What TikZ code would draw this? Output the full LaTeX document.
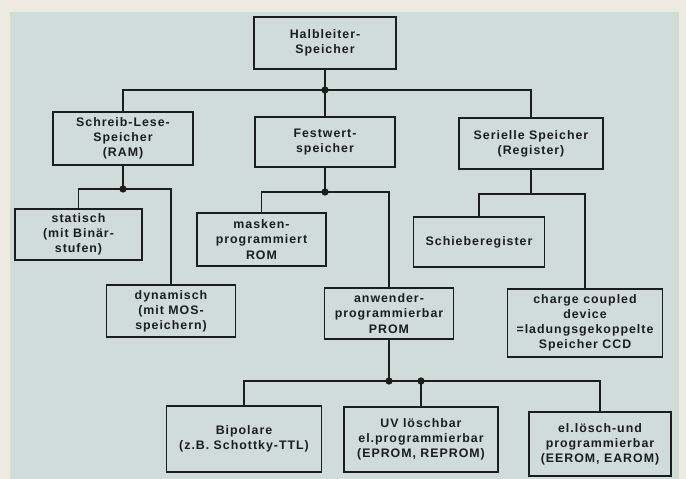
\documentclass[tikz,border=0pt]{standalone}
\usepackage{fontspec}
\setmainfont{Liberation Sans}[LetterSpace=8]
\definecolor{cpanel}{HTML}{D0DCDA}
\definecolor{cpaper}{HTML}{EEE9E1}
\definecolor{cink}{HTML}{1C1C1C}

\begin{document}
\begin{tikzpicture}[x=0.025cm, y=-0.025cm,
      box/.style={draw=cink, line width=1.2pt, align=center, inner sep=2pt, text=cink, font=\fontsize{8.8}{10.8}\selectfont\bfseries},
      wire/.style={draw=cink, line width=1.2pt}
    ]
    \fill[cpaper] (0,0) rectangle (686,479);
    \fill[cpanel] (10,12) rectangle (679,479);
    \useasboundingbox (0,0) rectangle (686,479);

    \node[box, minimum width=3.55cm, minimum height=1.3cm] (hl) at (325,43) {Halbleiter-\\Speicher};
    \node[box, minimum width=3.5cm, minimum height=1.325cm] (ram) at (123,138.5) {Schreib-Lese-\\Speicher\\(RAM)};
    \node[box, minimum width=3.5cm, minimum height=1.25cm] (fest) at (325,142) {Festwert-\\speicher};
    \node[box, minimum width=3.6cm, minimum height=1.275cm] (ser) at (531,143.5) {Serielle Speicher\\(Register)};

    \node[box, minimum width=3.175cm, minimum height=1.275cm] (stat) at (78.5,234.5) {statisch\\(mit Binär-\\stufen)};
    \node[box, minimum width=3.225cm, minimum height=1.3cm] (dyn) at (171,311) {dynamisch\\(mit MOS-\\speichern)};
    \node[box, minimum width=3.225cm, minimum height=1.325cm] (mask) at (261.5,239.5) {masken-\\programmiert\\ROM};
    \node[box, minimum width=3.225cm, minimum height=1.275cm] (anw) at (389,313.5) {anwender-\\programmierbar\\PROM};
    \node[box, minimum width=3.275cm, minimum height=1.25cm] (schieb) at (479,242) {Schieberegister};
    \node[box, minimum width=3.875cm, minimum height=1.7cm] (ccd) at (585,323) {charge coupled\\device\\=ladungsgekoppelte\\Speicher CCD};

    \node[box, minimum width=3.875cm, minimum height=1.65cm] (bip) at (244,439) {Bipolare\\(z.B. Schottky-TTL)};
    \node[box, minimum width=3.85cm, minimum height=1.625cm] (uv) at (421,439.5) {UV löschbar\\el.programmierbar\\(EPROM, REPROM)};
    \node[box, minimum width=3.55cm, minimum height=1.6cm] (el) at (600,444) {el.lösch-und\\programmierbar\\(EEROM, EAROM)};

    \coordinate (j1) at (325,90);
    \coordinate (j2) at (123,189);
    \coordinate (j3) at (325,192);
    \coordinate (j4) at (531,194);
    \coordinate (j5) at (389,381);
    \coordinate (j6) at (421,381);

    \draw[wire] (hl) -- (fest);
    \draw[wire] (ram.north) |- (j1) -| (ser.north);
    \draw[wire] (ram) -- (j2);
    \draw[wire] (stat.north) |- (j2) -| (dyn.north);
    \draw[wire] (fest) -- (j3);
    \draw[wire] (mask.north) |- (j3) -| (anw.north);
    \draw[wire] (ser) -- (j4);
    \draw[wire] (schieb.north) |- (j4) -| (ccd.north);
    \draw[wire] (anw) -- (j5);
    \draw[wire] (bip.north) |- (j5) -- (j6) -| (el.north);
    \draw[wire] (j6) -- (uv);
    \foreach \j in {j1,j2,j3,j5,j6}
      \fill[cink] (\j) circle (2.6pt);
  \end{tikzpicture}
\end{document}
